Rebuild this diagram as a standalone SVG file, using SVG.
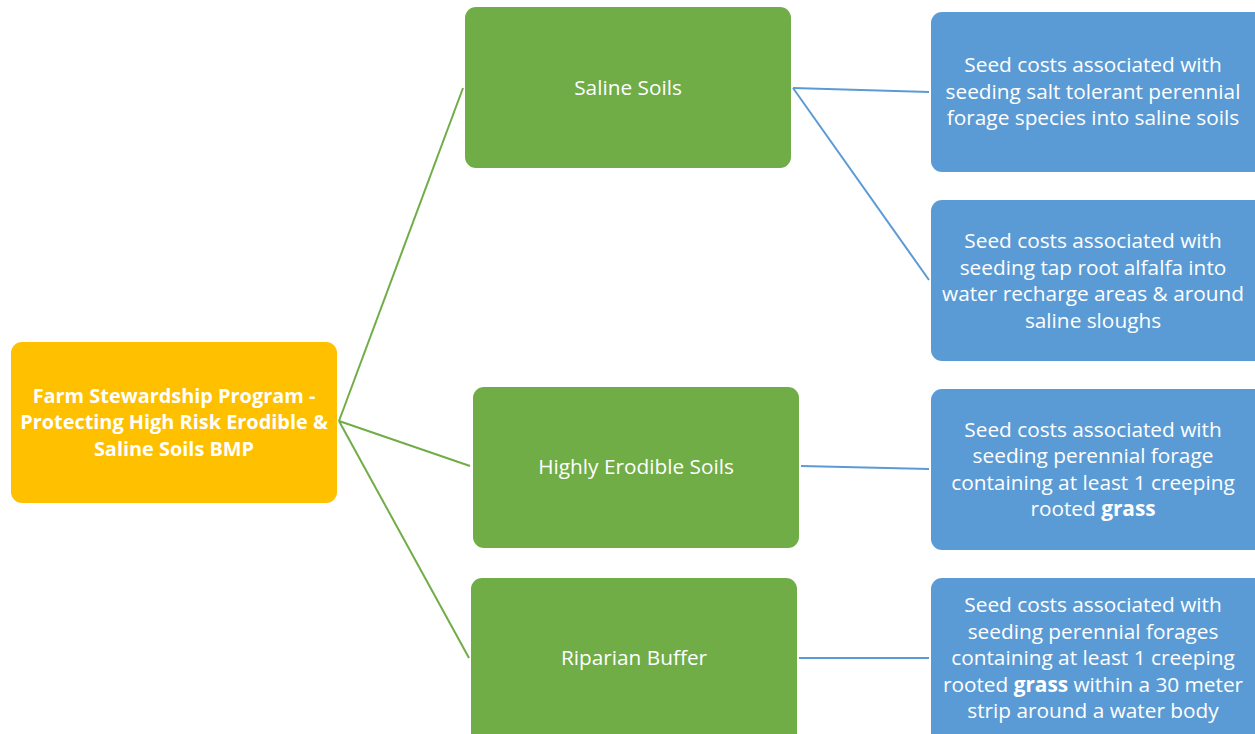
<svg xmlns="http://www.w3.org/2000/svg" width="1255" height="734" viewBox="0 0 1255 734">
<style>
text{font-family:"Open Sans","Liberation Sans",sans-serif;fill:#fff;text-anchor:middle}
.t{font-size:20.8px}
.r{font-size:19.9px;font-weight:bold}
.g{fill:#70ad47}
.b{fill:#5b9bd5}
.o{fill:#ffc000}
.cg{stroke:#70ad47;stroke-width:2;fill:none}
.cb{stroke:#5b9bd5;stroke-width:2;fill:none}
</style>
<rect width="1255" height="734" fill="#fff"/>
<g id="connectors">
<line class="cg" x1="339" y1="421" x2="463" y2="88"/>
<line class="cg" x1="339" y1="421" x2="470" y2="466"/>
<line class="cg" x1="339" y1="421" x2="469" y2="658"/>
<line class="cb" x1="793" y1="88" x2="929" y2="92"/>
<line class="cb" x1="793" y1="88" x2="929" y2="280"/>
<line class="cb" x1="801" y1="466" x2="929" y2="469"/>
<line class="cb" x1="799" y1="658" x2="929" y2="658"/>
</g>
<g id="root">
<rect class="o" x="11" y="342" width="326" height="161" rx="11"/>
<text class="r" x="174" y="403">Farm Stewardship Program -</text>
<text class="r" x="174" y="429">Protecting High Risk Erodible &amp;</text>
<text class="r" x="174" y="456">Saline Soils BMP</text>
</g>
<g id="saline">
<rect class="g" x="465" y="7" width="326" height="161" rx="11"/>
<text class="t" x="628" y="95">Saline Soils</text>
</g>
<g id="erodible">
<rect class="g" x="473" y="387" width="326" height="161" rx="11"/>
<text class="t" x="636" y="474">Highly Erodible Soils</text>
</g>
<g id="riparian">
<rect class="g" x="471" y="578" width="326" height="170" rx="11"/>
<text class="t" x="634" y="665">Riparian Buffer</text>
</g>
<g id="b1">
<rect class="b" x="931" y="12" width="335" height="160" rx="11"/>
<text class="t" x="1093" y="72">Seed costs associated with</text>
<text class="t" x="1093" y="99">seeding salt tolerant perennial</text>
<text class="t" x="1093" y="125">forage species into saline soils</text>
</g>
<g id="b2">
<rect class="b" x="931" y="200" width="335" height="161" rx="11"/>
<text class="t" x="1093" y="248">Seed costs associated with</text>
<text class="t" x="1093" y="275">seeding tap root alfalfa into</text>
<text class="t" x="1093" y="301">water recharge areas &amp; around</text>
<text class="t" x="1093" y="328">saline sloughs</text>
</g>
<g id="b3">
<rect class="b" x="931" y="389" width="335" height="161" rx="11"/>
<text class="t" x="1093" y="437">Seed costs associated with</text>
<text class="t" x="1093" y="463">seeding perennial forage</text>
<text class="t" x="1093" y="490">containing at least 1 creeping</text>
<text class="t" x="1093" y="516">rooted <tspan font-weight="bold">grass</tspan></text>
</g>
<g id="b4">
<rect class="b" x="931" y="578" width="335" height="170" rx="11"/>
<text class="t" x="1093" y="612">Seed costs associated with</text>
<text class="t" x="1093" y="639">seeding perennial forages</text>
<text class="t" x="1093" y="665">containing at least 1 creeping</text>
<text class="t" x="1093" y="692">rooted <tspan font-weight="bold">grass</tspan> within a 30 meter</text>
<text class="t" x="1093" y="718">strip around a water body</text>
</g>
</svg>
